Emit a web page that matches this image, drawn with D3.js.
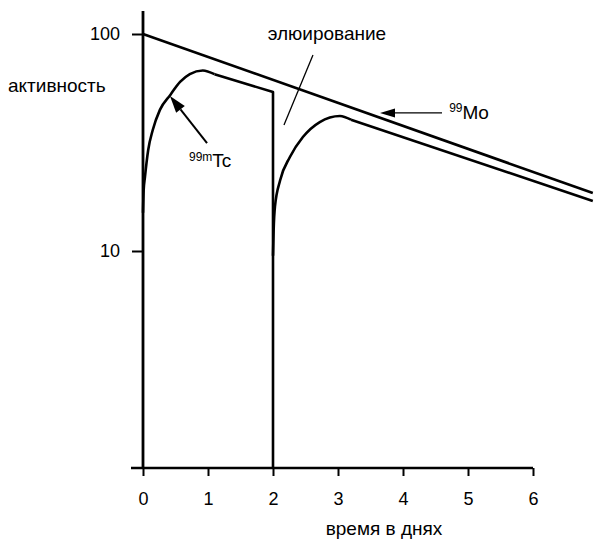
<!DOCTYPE html>
<html lang="ru">
<head>
    <meta charset="UTF-8">
    <title>Mo-99 / Tc-99m</title>
    <script src="https://cdn.jsdelivr.net/npm/d3@7/dist/d3.min.js"></script>
    <style>
        body { margin: 0; background: #fff; }
        text { font-family: "Liberation Sans", Arial, sans-serif; fill: #000; }
    </style>
</head>
<body>

<svg width="595" height="541"></svg>

<script>

    // данные (время в днях, активность)
    var moDays = [0, 6.92];
    var moActivity = [100, 18.5];

    // 99mTc: первое накопление, потом элюирование на 2-й день
    var tcRise1Days = [0, 0.01, 0.03, 0.08, 0.15, 0.26, 0.42, 0.57, 0.72, 0.92, 1.1];
    var tcRise1Activity = [15, 19, 21.9, 29.2, 36.1, 44.7, 52.4, 60.1, 65.4, 67.9, 65.3];
    var tcFall1Days = [2.0, 2.0];
    var tcFall1Activity = [54.0, 1];

    // второе накопление
    var tcRise2Days = [2.0, 2.01, 2.03, 2.11, 2.26, 2.46, 2.72, 3.03, 3.2];
    var tcRise2Activity = [9.5, 12.5, 16.0, 21.2, 27.1, 33.5, 39.3, 41.9, 40.3];
    var tcFall2Days = [6.92];
    var tcFall2Activity = [17.0];

    var xTicks = [0, 1, 2, 3, 4, 5, 6];
    var yTicks = [10, 100];

    var svg = d3.select("svg");

    var x = d3.scaleLinear().domain([0, 6]).range([143, 533]);
    var y = d3.scaleLog().domain([1, 100]).range([468, 34]);

    function pts(days, vals) {
        return days.map(function (d, i) { return [d, vals[i]]; });
    }

    var curve = d3.line()
        .x(function (d) { return x(d[0]); })
        .y(function (d) { return y(d[1]); })
        .curve(d3.curveMonotoneX);

    var straight = d3.line()
        .x(function (d) { return x(d[0]); })
        .y(function (d) { return y(d[1]); });

    //оси
    svg.append("line")
        .attr("x1", x(0) - 12).attr("x2", x(6))
        .attr("y1", y(1)).attr("y2", y(1))
        .attr("stroke", "#000").attr("stroke-width", 2.6);
    svg.append("line")
        .attr("x1", x(0)).attr("x2", x(0))
        .attr("y1", y(1)).attr("y2", y(100) - 23)
        .attr("stroke", "#000").attr("stroke-width", 2.8);

    var gx = svg.append("g")
        .attr("transform", "translate(0," + y(1) + ")")
        .call(d3.axisBottom(x).tickValues(xTicks).tickSize(8).tickPadding(16).tickFormat(d3.format("d")));
    var gy = svg.append("g")
        .attr("transform", "translate(" + x(0) + ",0)")
        .call(d3.axisLeft(y).tickValues(yTicks).tickSize(11).tickPadding(12).tickFormat(d3.format("d")));

    [gx, gy].forEach(function (g) {
        g.select(".domain").remove();
        g.selectAll(".tick line").attr("stroke", "#000").attr("stroke-width", 2);
        g.selectAll(".tick text")
            .attr("font-size", 18)
            .attr("font-family", "'Liberation Sans', Arial, sans-serif")
            .attr("fill", "#000");
    });

    //кривые
    var lineStyle = function (p) {
        p.attr("fill", "none").attr("stroke", "#000").attr("stroke-width", 2.6)
            .attr("stroke-linejoin", "round");
    };

    var mo = pts(moDays, moActivity);
    var rise1 = pts(tcRise1Days, tcRise1Activity);
    var rise2 = pts(tcRise2Days, tcRise2Activity);

    svg.append("path").attr("d", straight(mo)).call(lineStyle);
    svg.append("path").attr("d", curve(rise1)).call(lineStyle);
    svg.append("path")
        .attr("d", straight([rise1[rise1.length - 1]].concat(pts(tcFall1Days, tcFall1Activity))))
        .call(lineStyle);
    svg.append("path").attr("d", curve(rise2)).call(lineStyle);
    svg.append("path")
        .attr("d", straight([rise2[rise2.length - 1]].concat(pts(tcFall2Days, tcFall2Activity))))
        .call(lineStyle);

    //стрелки
    function arrow(tail, tip, width, len, half) {
        var x0 = x(tail[0]), y0 = y(tail[1]), x1 = x(tip[0]), y1 = y(tip[1]);
        var a = Math.atan2(y1 - y0, x1 - x0);
        var bx = x1 - len * Math.cos(a), by = y1 - len * Math.sin(a);
        svg.append("line")
            .attr("x1", x0).attr("y1", y0).attr("x2", bx).attr("y2", by)
            .attr("stroke", "#000").attr("stroke-width", width);
        svg.append("path")
            .attr("d", "M" + x1 + "," + y1 +
                "L" + (bx + half * Math.sin(a)) + "," + (by - half * Math.cos(a)) +
                "L" + (bx - half * Math.sin(a)) + "," + (by + half * Math.cos(a)) + "Z")
            .attr("fill", "#000");
    }

    arrow([4.6, 43.3], [3.646, 43.3], 1.2, 15, 4.5);
    arrow([0.985, 31.4], [0.415, 51.8], 2, 17, 5.5);

    // линия к подписи "элюирование"
    svg.append("line")
        .attr("x1", x(2.615)).attr("y1", y(80.0))
        .attr("x2", x(2.169)).attr("y2", y(38.1))
        .attr("stroke", "#000").attr("stroke-width", 1.3);

    //подписи
    svg.append("text")
        .attr("x", x(2.83)).attr("y", y(93.8))
        .attr("text-anchor", "middle")
        .attr("font-size", 19)
        .text("элюирование");

    var moLabel = svg.append("text").attr("x", x(4.71)).attr("y", y(40.6));
    moLabel.append("tspan").attr("font-size", 12).attr("dy", -7).text("99");
    moLabel.append("tspan").attr("font-size", 19).attr("dy", 7).text("Mo");

    var tcLabel = svg.append("text").attr("x", x(0.708)).attr("y", y(24.4));
    tcLabel.append("tspan").attr("font-size", 12).attr("dy", -6).text("99m");
    tcLabel.append("tspan").attr("font-size", 19).attr("dy", 6).text("Tc");

    svg.append("text")
        .attr("x", 8).attr("y", 92)
        .attr("font-size", 19)
        .text("активность");

    svg.append("text")
        .attr("x", 384).attr("y", 535)
        .attr("text-anchor", "middle")
        .attr("font-size", 19)
        .text("время в днях");

</script>
</body>
</html>
